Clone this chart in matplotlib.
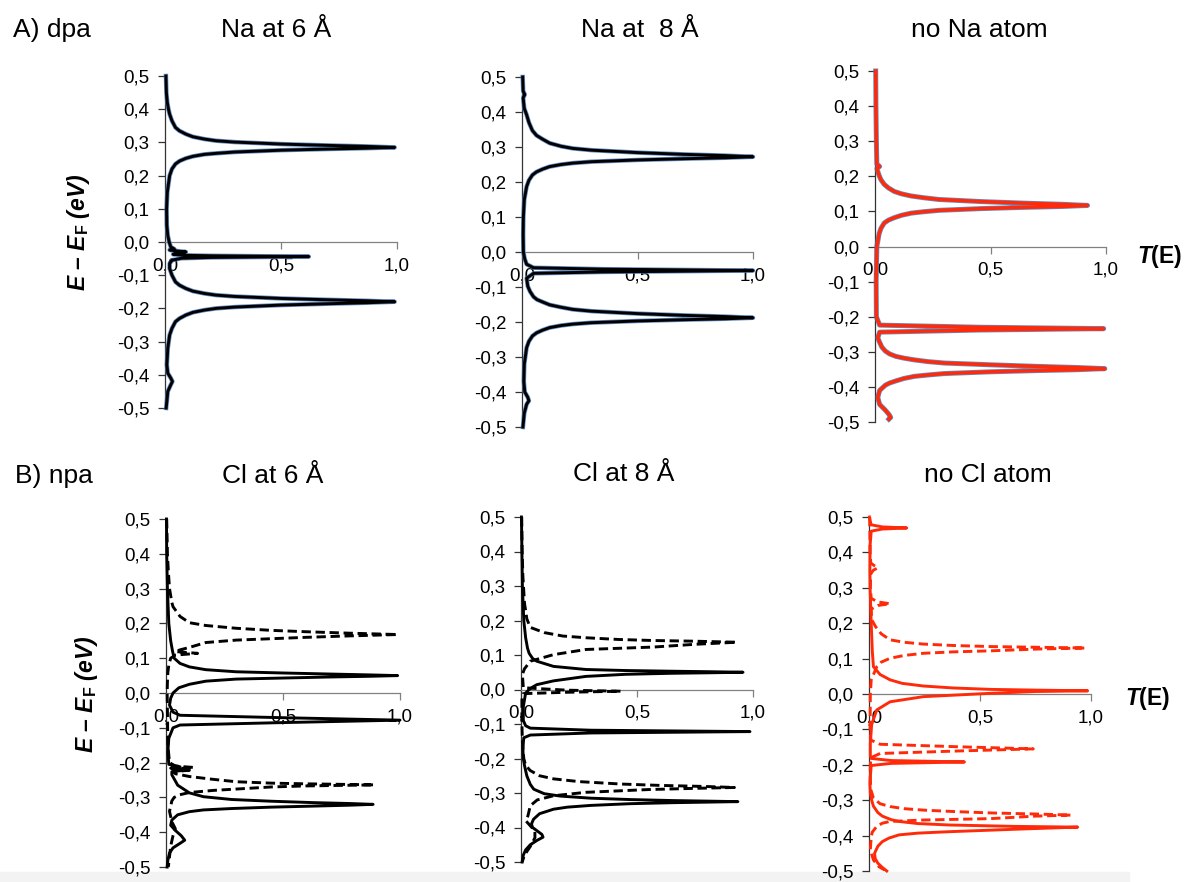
import numpy as np
import matplotlib
matplotlib.use("Agg")
import matplotlib.pyplot as plt
from matplotlib.ticker import FuncFormatter
from matplotlib.patches import Rectangle

plt.rcParams['font.family'] = ['Liberation Sans', 'DejaVu Sans']
plt.rcParams['mathtext.fontset'] = 'custom'
plt.rcParams['mathtext.rm'] = 'Liberation Sans'
plt.rcParams['mathtext.it'] = 'Liberation Sans:italic'
plt.rcParams['mathtext.bf'] = 'Liberation Sans:bold'
plt.rcParams['mathtext.bfit'] = 'Liberation Sans:italic:bold'

W, H = 1186, 882

# ---- data: (E - EF, T) pairs --------------------------------------
na6 = [(0.50, 0.004), (0.45, 0.006), (0.42, 0.01), (0.40, 0.015), (0.385, 0.02), (0.365, 0.03),
       (0.345, 0.045), (0.335, 0.062), (0.325, 0.09), (0.317, 0.12), (0.310, 0.17), (0.305, 0.22),
       (0.301, 0.30), (0.295, 0.50), (0.291, 0.70), (0.288, 0.87), (0.285, 0.99), (0.2825, 0.87),
       (0.280, 0.70), (0.2765, 0.50), (0.271, 0.30), (0.267, 0.22), (0.264, 0.17), (0.258, 0.12),
       (0.252, 0.09), (0.244, 0.063), (0.235, 0.045), (0.22, 0.03), (0.20, 0.02), (0.15, 0.01),
       (0.10, 0.007), (0.05, 0.008), (0.02, 0.012), (0.0, 0.018), (-0.015, 0.025), (-0.021, 0.04),
       (-0.024, 0.02), (-0.027, 0.05), (-0.030, 0.09), (-0.033, 0.05), (-0.037, 0.035), (-0.040, 0.08),
       (-0.0415, 0.2), (-0.043, 0.45), (-0.044, 0.62), (-0.045, 0.45), (-0.0465, 0.2), (-0.049, 0.07),
       (-0.055, 0.03), (-0.065, 0.02), (-0.08, 0.02), (-0.10, 0.03), (-0.12, 0.045), (-0.13, 0.062),
       (-0.14, 0.09), (-0.148, 0.12), (-0.155, 0.17), (-0.160, 0.22), (-0.164, 0.30), (-0.170, 0.50),
       (-0.174, 0.70), (-0.177, 0.87), (-0.180, 0.99), (-0.183, 0.87), (-0.186, 0.70), (-0.190, 0.50),
       (-0.196, 0.30), (-0.200, 0.22), (-0.205, 0.17), (-0.212, 0.12), (-0.22, 0.09), (-0.23, 0.063),
       (-0.24, 0.045), (-0.26, 0.03), (-0.28, 0.02), (-0.32, 0.012), (-0.37, 0.008), (-0.395, 0.012),
       (-0.41, 0.025), (-0.42, 0.032), (-0.43, 0.025), (-0.45, 0.012), (-0.48, 0.008), (-0.50, 0.005)]

na8 = [(0.50, 0.003), (0.46, 0.005), (0.45, 0.012), (0.44, 0.005), (0.41, 0.01), (0.392, 0.02),
       (0.37, 0.03), (0.347, 0.045), (0.333, 0.063), (0.322, 0.09), (0.311, 0.12), (0.302, 0.17),
       (0.296, 0.22), (0.291, 0.30), (0.284, 0.50), (0.279, 0.70), (0.2755, 0.88), (0.272, 1.0),
       (0.2692, 0.88), (0.2665, 0.70), (0.263, 0.50), (0.258, 0.30), (0.254, 0.22), (0.250, 0.17),
       (0.244, 0.12), (0.237, 0.09), (0.229, 0.063), (0.220, 0.045), (0.205, 0.03), (0.187, 0.02),
       (0.15, 0.01), (0.10, 0.006), (0.05, 0.005), (0.0, 0.006), (-0.02, 0.012), (-0.035, 0.02),
       (-0.045, 0.05), (-0.049, 0.35), (-0.053, 1.0), (-0.057, 0.35), (-0.061, 0.05), (-0.075, 0.02),
       (-0.098, 0.025), (-0.113, 0.035), (-0.128, 0.05), (-0.136, 0.065), (-0.143, 0.09),
       (-0.151, 0.12), (-0.158, 0.17), (-0.164, 0.22), (-0.169, 0.30), (-0.176, 0.50), (-0.181, 0.70),
       (-0.1845, 0.88), (-0.188, 1.0), (-0.1908, 0.88), (-0.1935, 0.70), (-0.197, 0.50),
       (-0.202, 0.30), (-0.206, 0.22), (-0.210, 0.17), (-0.216, 0.12), (-0.223, 0.09), (-0.231, 0.063),
       (-0.240, 0.045), (-0.255, 0.03), (-0.273, 0.02), (-0.32, 0.01), (-0.37, 0.008), (-0.40, 0.012),
       (-0.415, 0.025), (-0.425, 0.03), (-0.435, 0.02), (-0.46, 0.01), (-0.50, 0.004)]

no_na = [(0.50, 0.003), (0.40, 0.004), (0.30, 0.006), (0.235, 0.008), (0.228, 0.02), (0.222, 0.008),
         (0.202, 0.018), (0.19, 0.026), (0.177, 0.04), (0.167, 0.058), (0.157, 0.083), (0.150, 0.115),
         (0.144, 0.156), (0.139, 0.21), (0.134, 0.276), (0.128, 0.46), (0.1235, 0.644), (0.1202, 0.81),
         (0.117, 0.92), (0.114, 0.81), (0.1115, 0.644), (0.108, 0.46), (0.103, 0.276), (0.099, 0.21),
         (0.095, 0.156), (0.089, 0.115), (0.082, 0.083), (0.075, 0.058), (0.067, 0.04), (0.052, 0.026),
         (0.037, 0.018), (0.0, 0.008), (-0.10, 0.005), (-0.20, 0.006), (-0.224, 0.02), (-0.230, 0.45),
         (-0.234, 0.99), (-0.238, 0.45), (-0.244, 0.02), (-0.26, 0.012), (-0.273, 0.02), (-0.287, 0.03),
         (-0.298, 0.045), (-0.306, 0.063), (-0.313, 0.09), (-0.318, 0.125), (-0.323, 0.17),
         (-0.328, 0.23), (-0.332, 0.30), (-0.337, 0.50), (-0.3415, 0.70), (-0.3448, 0.875),
         (-0.348, 0.995), (-0.351, 0.875), (-0.3535, 0.70), (-0.357, 0.50), (-0.362, 0.30),
         (-0.366, 0.23), (-0.370, 0.17), (-0.376, 0.125), (-0.383, 0.09), (-0.389, 0.063),
         (-0.395, 0.045), (-0.41, 0.02), (-0.43, 0.012), (-0.45, 0.02), (-0.465, 0.043), (-0.478, 0.06),
         (-0.487, 0.068), (-0.492, 0.06)]

cl6_solid = [(0.50, 0.002), (0.40, 0.003), (0.30, 0.006), (0.20, 0.012), (0.15, 0.02), (0.12, 0.028),
             (0.10, 0.035), (0.085, 0.06), (0.075, 0.10), (0.067, 0.17), (0.061, 0.30), (0.0575, 0.50),
             (0.0545, 0.70), (0.052, 0.87), (0.050, 0.99), (0.048, 0.87), (0.046, 0.70), (0.043, 0.50),
             (0.040, 0.30), (0.034, 0.17), (0.025, 0.10), (0.015, 0.055), (0.0, 0.03), (-0.015, 0.02),
             (-0.035, 0.015), (-0.055, 0.03), (-0.064, 0.06), (-0.071, 0.5), (-0.078, 1.0), (-0.085, 0.5),
             (-0.092, 0.06), (-0.10, 0.03), (-0.13, 0.012), (-0.17, 0.008), (-0.205, 0.012), (-0.212, 0.06),
             (-0.216, 0.02), (-0.222, 0.08), (-0.226, 0.025), (-0.235, 0.025), (-0.265, 0.05),
             (-0.287, 0.10), (-0.298, 0.16), (-0.306, 0.28), (-0.311, 0.45), (-0.315, 0.63),
             (-0.3175, 0.78), (-0.320, 0.885), (-0.3225, 0.78), (-0.325, 0.63), (-0.328, 0.45),
             (-0.332, 0.28), (-0.336, 0.16), (-0.341, 0.10), (-0.350, 0.05), (-0.365, 0.025), (-0.38, 0.02),
             (-0.395, 0.04), (-0.41, 0.065), (-0.423, 0.08), (-0.432, 0.06), (-0.445, 0.03), (-0.46, 0.015),
             (-0.48, 0.008), (-0.50, 0.005)]

cl6_dash = [(0.50, 0.003), (0.40, 0.006), (0.35, 0.01), (0.30, 0.015), (0.26, 0.025), (0.248, 0.03),
            (0.22, 0.06), (0.202, 0.10), (0.194, 0.17), (0.186, 0.30), (0.180, 0.45), (0.176, 0.60),
            (0.172, 0.78), (0.168, 0.99), (0.164, 0.78), (0.160, 0.60), (0.156, 0.45), (0.152, 0.30),
            (0.145, 0.17), (0.131, 0.10), (0.124, 0.06), (0.119, 0.04), (0.114, 0.135), (0.109, 0.04),
            (0.10, 0.02), (0.08, 0.012), (0.06, 0.008), (0.03, 0.006), (0.0, 0.005), (-0.05, 0.006),
            (-0.15, 0.008), (-0.20, 0.015), (-0.21, 0.04), (-0.214, 0.12), (-0.218, 0.04), (-0.222, 0.10),
            (-0.226, 0.03), (-0.232, 0.04), (-0.240, 0.10), (-0.248, 0.20), (-0.255, 0.30), (-0.259, 0.45),
            (-0.261, 0.60), (-0.2625, 0.75), (-0.264, 0.89), (-0.2655, 0.75), (-0.267, 0.60),
            (-0.270, 0.45), (-0.276, 0.30), (-0.280, 0.20), (-0.286, 0.10), (-0.293, 0.055), (-0.30, 0.035),
            (-0.31, 0.025), (-0.34, 0.015), (-0.37, 0.025), (-0.39, 0.04), (-0.41, 0.03), (-0.44, 0.02),
            (-0.47, 0.015), (-0.50, 0.01)]

cl8_solid = [(0.50, 0.002), (0.40, 0.004), (0.30, 0.006), (0.20, 0.012), (0.15, 0.02), (0.12, 0.028),
             (0.105, 0.035), (0.09, 0.05), (0.082, 0.068), (0.067, 0.14), (0.058, 0.28), (0.055, 0.45),
             (0.053, 0.65), (0.0515, 0.82), (0.050, 0.957), (0.0485, 0.82), (0.047, 0.65), (0.044, 0.45),
             (0.038, 0.28), (0.025, 0.14), (0.014, 0.068), (0.003, 0.04), (-0.01, 0.02), (-0.05, 0.01),
             (-0.09, 0.01), (-0.105, 0.02), (-0.112, 0.04), (-0.118, 0.3), (-0.122, 0.987), (-0.126, 0.3),
             (-0.132, 0.04), (-0.14, 0.012), (-0.17, 0.008), (-0.20, 0.01), (-0.22, 0.015), (-0.25, 0.025),
             (-0.275, 0.04), (-0.289, 0.055), (-0.302, 0.10), (-0.309, 0.17), (-0.315, 0.30),
             (-0.319, 0.47), (-0.322, 0.66), (-0.3235, 0.80), (-0.325, 0.935), (-0.3265, 0.80),
             (-0.328, 0.66), (-0.331, 0.47), (-0.336, 0.30), (-0.341, 0.20), (-0.347, 0.14), (-0.36, 0.08),
             (-0.376, 0.054), (-0.39, 0.045), (-0.40, 0.05), (-0.41, 0.07), (-0.42, 0.09), (-0.428, 0.095),
             (-0.437, 0.07), (-0.45, 0.04), (-0.465, 0.02), (-0.48, 0.01), (-0.50, 0.005)]

cl8_dash = [(0.50, 0.003), (0.40, 0.005), (0.33, 0.008), (0.25, 0.015), (0.22, 0.022), (0.205, 0.025),
            (0.18, 0.04), (0.165, 0.10), (0.155, 0.18), (0.150, 0.28), (0.145, 0.42), (0.142, 0.57),
            (0.140, 0.75), (0.137, 0.93), (0.131, 0.75), (0.123, 0.57), (0.116, 0.28), (0.101, 0.14),
            (0.082, 0.04), (0.06, 0.015), (0.044, 0.006), (0.005, 0.01), (-0.002, 0.2), (-0.005, 0.43),
            (-0.008, 0.2), (-0.012, 0.01), (-0.03, 0.004), (-0.10, 0.004), (-0.15, 0.006), (-0.20, 0.012),
            (-0.22, 0.02), (-0.235, 0.04), (-0.25, 0.08), (-0.259, 0.14), (-0.267, 0.25), (-0.274, 0.43),
            (-0.278, 0.60), (-0.281, 0.79), (-0.284, 0.92), (-0.2865, 0.75), (-0.290, 0.55),
            (-0.298, 0.28), (-0.308, 0.14), (-0.32, 0.07), (-0.337, 0.04), (-0.366, 0.03), (-0.38, 0.02),
            (-0.41, 0.06), (-0.43, 0.06), (-0.455, 0.04), (-0.48, 0.015), (-0.50, 0.005)]

nocl_solid = [(0.50, 0.002), (0.49, 0.005), (0.478, 0.01), (0.472, 0.06), (0.469, 0.17), (0.466, 0.06),
              (0.46, 0.01), (0.42, 0.005), (0.35, 0.004), (0.30, 0.005), (0.20, 0.01), (0.12, 0.015),
              (0.077, 0.02), (0.055, 0.05), (0.040, 0.095), (0.030, 0.15), (0.0226, 0.245), (0.017, 0.38),
              (0.013, 0.55), (0.011, 0.75), (0.009, 0.985), (0.007, 0.75), (0.002, 0.55), (-0.0075, 0.245),
              (-0.022, 0.095), (-0.045, 0.035), (-0.086, 0.012), (-0.14, 0.006), (-0.175, 0.006),
              (-0.182, 0.01), (-0.188, 0.1), (-0.192, 0.43), (-0.196, 0.1), (-0.202, 0.01), (-0.25, 0.004),
              (-0.28, 0.006), (-0.30, 0.012), (-0.317, 0.02), (-0.335, 0.04), (-0.345, 0.06), (-0.355, 0.10),
              (-0.360, 0.135), (-0.366, 0.22), (-0.370, 0.36), (-0.374, 0.66), (-0.376, 0.94),
              (-0.382, 0.66), (-0.389, 0.36), (-0.393, 0.22), (-0.398, 0.135), (-0.407, 0.09),
              (-0.417, 0.06), (-0.43, 0.04), (-0.45, 0.025), (-0.465, 0.028), (-0.478, 0.04), (-0.49, 0.06),
              (-0.50, 0.08)]

nocl_dash = [(0.50, 0.003), (0.40, 0.005), (0.37, 0.008), (0.362, 0.025), (0.356, 0.04), (0.35, 0.02),
             (0.34, 0.008), (0.30, 0.006), (0.27, 0.01), (0.26, 0.04), (0.255, 0.095), (0.25, 0.04),
             (0.24, 0.01), (0.21, 0.012), (0.19, 0.03), (0.17, 0.055), (0.153, 0.095), (0.146, 0.16),
             (0.141, 0.245), (0.137, 0.38), (0.134, 0.55), (0.132, 0.76), (0.130, 0.975), (0.127, 0.76),
             (0.122, 0.55), (0.119, 0.38), (0.115, 0.245), (0.109, 0.16), (0.101, 0.095), (0.09, 0.055),
             (0.077, 0.035), (0.04, 0.01), (0.0, 0.006), (-0.10, 0.005), (-0.13, 0.008), (-0.142, 0.05),
             (-0.149, 0.4), (-0.155, 0.74), (-0.161, 0.4), (-0.168, 0.05), (-0.18, 0.008), (-0.22, 0.005),
             (-0.27, 0.008), (-0.294, 0.02), (-0.31, 0.05), (-0.318, 0.095), (-0.324, 0.16), (-0.328, 0.245),
             (-0.332, 0.38), (-0.336, 0.55), (-0.339, 0.75), (-0.342, 0.91), (-0.345, 0.75), (-0.352, 0.55),
             (-0.356, 0.245), (-0.360, 0.095), (-0.365, 0.06), (-0.374, 0.035), (-0.39, 0.015),
             (-0.403, 0.01), (-0.44, 0.006), (-0.469, 0.02), (-0.488, 0.045), (-0.497, 0.07)]

y_ticks = [-0.5, -0.4, -0.3, -0.2, -0.1, 0.0, 0.1, 0.2, 0.3, 0.4, 0.5]
x_ticks = [0.0, 0.5, 1.0]

row_titles = ["A) dpa", "B) npa"]
panel_titles = [["Na at 6 Å", "Na at  8 Å", "no Na atom"],
                ["Cl at 6 Å", "Cl at 8 Å", "no Cl atom"]]

BLACK = "#000000"
RED = "#ff2a0a"
BLUE = "#3f72b5"


def comma(v, pos=None):
    if abs(v) < 1e-9:
        v = 0.0
    return f"{v:.1f}".replace(".", ",")


def px_axes(fig, x0, x1, ytop, ybot):
    return fig.add_axes([x0 / W, 1 - ybot / H, (x1 - x0) / W, (ybot - ytop) / H])


def setup(ax):
    ax.set_xlim(0, 1)
    ax.set_ylim(-0.5, 0.5)
    ax.patch.set_visible(False)
    for s in ("top", "right"):
        ax.spines[s].set_visible(False)
    ax.spines["bottom"].set_position(("data", 0))
    ax.spines["left"].set_color("#333333")
    ax.spines["bottom"].set_color("#808080")
    ax.spines["left"].set_linewidth(0.9)
    ax.spines["bottom"].set_linewidth(0.9)
    ax.set_xticks(x_ticks)
    ax.set_yticks(y_ticks)
    ax.xaxis.set_major_formatter(FuncFormatter(comma))
    ax.yaxis.set_major_formatter(FuncFormatter(comma))
    ax.tick_params(axis="y", direction="out", length=5, width=0.9, color="#333333",
                   pad=6, labelsize=13.5)
    ax.tick_params(axis="x", direction="out", length=5, width=0.9, color="#808080",
                   pad=6, labelsize=13.5)


def draw(ax, pts, color, lw=2.1, dashed=False, halo=None):
    arr = np.array(pts)
    kw = dict(clip_on=False, zorder=3)
    if dashed:
        kw["dashes"] = (3.2, 1.6)
    if halo:
        ax.plot(arr[:, 1], arr[:, 0], color=halo, lw=lw + 1.1, alpha=0.8, **kw)
    ax.plot(arr[:, 1], arr[:, 0], color=color, lw=lw, **kw)


fig = plt.figure(figsize=(W / 100, H / 100), dpi=100)
# faint grey band along the bottom edge, kept behind the axes
fig.patches.append(Rectangle((0, 0), 1129 / W, 10 / H, transform=fig.transFigure,
                             color="#f3f3f3", zorder=-1))

a1 = px_axes(fig, 165, 397, 76, 408)
a2 = px_axes(fig, 522, 753, 77, 427)
a3 = px_axes(fig, 875, 1106, 71, 422)
b1 = px_axes(fig, 166, 400, 519, 867)
b2 = px_axes(fig, 521, 753, 517, 862)
b3 = px_axes(fig, 869, 1091, 517, 871)
for ax in (a1, a2, a3, b1, b2, b3):
    setup(ax)

draw(a1, na6, BLACK, halo=BLUE)
draw(a2, na8, BLACK, halo=BLUE)
draw(a3, no_na, RED, lw=2.5, halo=BLUE)
draw(b1, cl6_dash, BLACK, dashed=True)
draw(b1, cl6_solid, BLACK)
draw(b2, cl8_dash, BLACK, dashed=True)
draw(b2, cl8_solid, BLACK)
draw(b3, nocl_dash, RED, dashed=True)
draw(b3, nocl_solid, RED)


def ftext(x, y, s, **kw):
    fig.text(x / W, 1 - y / H, s, **kw)


ftext(13, 30, row_titles[0], fontsize=19, ha="left", va="center")
ftext(15, 476, row_titles[1], fontsize=19, ha="left", va="center")
for (cx, cy), t in zip([(276, 30), (640, 30), (979, 30)], panel_titles[0]):
    ftext(cx, cy, t, fontsize=19, ha="center", va="center")
for (cx, cy), t in zip([(273, 476), (624, 474), (988, 475)], panel_titles[1]):
    ftext(cx, cy, t, fontsize=19, ha="center", va="center")

ylab = r"E – E$_\mathbf{F}$ (eV)"
ftext(78, 232, ylab, fontsize=16.5, fontweight="bold", style="italic",
      rotation=90, ha="center", va="center")
ftext(87, 694, ylab, fontsize=16.5, fontweight="bold", style="italic",
      rotation=90, ha="center", va="center")
tlab = r"$\mathbfit{T}$(E)"
ftext(1160, 257, tlab, fontsize=16.5, fontweight="bold", ha="center", va="center")
ftext(1148, 698, tlab, fontsize=16.5, fontweight="bold", ha="center", va="center")

fig.savefig("out.png", dpi=100)
